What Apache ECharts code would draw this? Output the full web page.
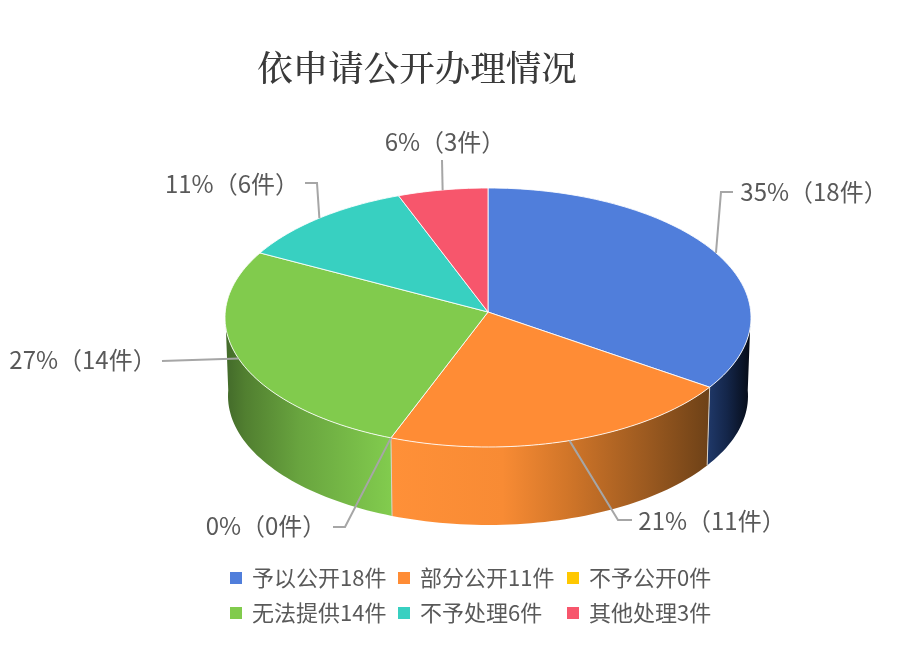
<!DOCTYPE html>
<html><head><meta charset="utf-8">
<style>html,body{margin:0;padding:0;background:#fff}#c{width:920px;height:649px}</style>
<script src="https://cdn.jsdelivr.net/npm/echarts@6/dist/echarts.min.js"></script>
</head><body><div id="c"></div>
<script>
const categories = ['予以公开18件','部分公开11件','不予公开0件','无法提供14件','不予处理6件','其他处理3件'];
const values = [18,11,0,14,6,3];
const valueLabels = ['35%（18件）','21%（11件）','0%（0件）','27%（14件）','11%（6件）','6%（3件）'];
const colors = ['#507edb','#ff8c35','#ffc800','#81cb4d','#38d0c1','#f7566c'];

// layout only
const G = {cx:488, cy:317.5, rx:263, ry:129.5, apexY:312, bCy:396, bRx:260, bRy:129, warp:2.5};
const wallStops = [
  [[0,'#20396a'],[0.45,'#14264a'],[1,'#050a14']],
  [[0,'#ff9038'],[0.35,'#f88b34'],[0.55,'#d27629'],[0.8,'#9c5a20'],[1,'#6d4117']],
  [[0,'#ffc800'],[1,'#ffc800']],
  [[0,'#42692a'],[0.12,'#517f30'],[0.45,'#69a53f'],[1,'#82cc4e']],
  [[0,'#38d0c1'],[1,'#38d0c1']],
  [[0,'#f7566c'],[1,'#f7566c']]
];
const labelPos = [[814,192],[712,521],[266,526],[83,360],[232,184],[445,142]];
const leaderRoute = [
  [[721,192],[733,192]],
  [[618,520],[632,520]],
  [[345,527],[333,527]],
  [[162,361]],
  [[317,183],[305,183]],
  [[442,160]]
];

const total = values.reduce((a,b)=>a+b,0);
const rad = d => d*Math.PI/180;
// slight perspective warp of the rim angle
const warped = a => a - G.warp*Math.sin(rad(a));
const topPt = a => {const w=rad(warped(a));return [G.cx+G.rx*Math.sin(w), G.cy-G.ry*Math.cos(w)];};
const botPt = a => {const w=rad(warped(a));return [G.cx+G.bRx*Math.sin(w), G.bCy-G.bRy*Math.cos(w)];};
function arc(f,a,b){const pts=[];const n=Math.max(1,Math.ceil(Math.abs(b-a)/1.5));for(let i=0;i<=n;i++)pts.push(f(a+(b-a)*i/n));return pts;}

function renderSlice(params, api){
  const idx = params.seriesIndex, v = api.value(0);
  let start = 0; for(let i=0;i<idx;i++) start += values[i]/total*360;
  const end = start + v/total*360, mid = (start+end)/2;
  const children = [];
  if(v>0){
    children.push({type:'polygon',z2:10,shape:{points:[[G.cx,G.apexY]].concat(arc(topPt,start,end))},
      style:{fill:colors[idx],stroke:'rgba(255,255,255,0.85)',lineWidth:1,lineJoin:'round'}});
    const a=Math.max(start,90), b=Math.min(end,270);
    if(b>a){
      children.push({type:'polygon',z2:1,shape:{points:arc(topPt,a,b).concat(arc(botPt,b,a))},
        style:{fill:{type:'linear',x:0,y:0,x2:1,y2:0,colorStops:wallStops[idx].map(s=>({offset:s[0],color:s[1]}))}}});
      if(end<270){
        children.push({type:'line',z2:5,shape:{x1:topPt(end)[0],y1:topPt(end)[1],x2:botPt(end)[0],y2:botPt(end)[1]},
          style:{stroke:'#d9d2c8',lineWidth:1}});
      }
    }
  }
  children.push({type:'polyline',z2:20,shape:{points:[topPt(mid)].concat(leaderRoute[idx])},
    style:{fill:'none',stroke:'#a6a6a6',lineWidth:2}});
  children.push({type:'text',z2:21,style:{x:labelPos[idx][0],y:labelPos[idx][1],text:valueLabels[idx],
    fill:'#595959',align:'center',verticalAlign:'middle',font:'24px "Noto Sans CJK SC"'}});
  return {type:'group',children};
}

const legendBase = {orient:'vertical',icon:'rect',itemWidth:12,itemHeight:12,itemGap:13,padding:0,selectedMode:false,
  textStyle:{fontFamily:'"Noto Sans CJK SC"',fontSize:22,color:'#595959',padding:[0,0,0,5]}};
const chart = echarts.init(document.getElementById('c'),null,{renderer:'canvas'});
chart.setOption({
  animation:false,
  backgroundColor:'#fff',
  title:{text:'依申请公开办理情况',left:412,top:45,textAlign:'center',
    textStyle:{fontFamily:'"Noto Serif CJK SC","Noto Sans CJK SC"',fontSize:35.5,fontWeight:500,color:'#3a3a3a'}},
  legend:[
    Object.assign({},legendBase,{left:230,top:567,data:[categories[0],categories[3]]}),
    Object.assign({},legendBase,{left:398,top:567,data:[categories[1],categories[4]]}),
    Object.assign({},legendBase,{left:567,top:567,data:[categories[2],categories[5]]})
  ],
  series:categories.map((name,i)=>({type:'custom',name,coordinateSystem:'none',silent:true,
    itemStyle:{color:colors[i]},data:[[values[i]]],renderItem:renderSlice}))
});
</script></body></html>
